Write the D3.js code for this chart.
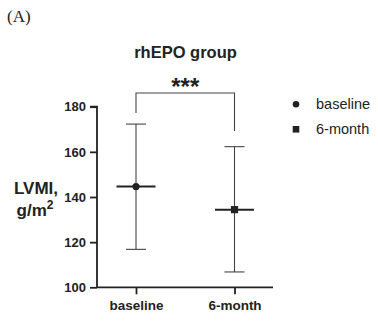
<!DOCTYPE html>
<html><head><meta charset="utf-8">
<script src="https://cdn.jsdelivr.net/npm/d3@7"></script>
<style>body{margin:0;background:#fff}svg{display:block}</style>
</head><body>
<svg id="c" width="378" height="326"></svg>
<script>
const categories = ["baseline", "6-month"];
const means = [144.6, 134.4];
const upper = [172.3, 162.3];
const lower = [116.8, 106.8];
const yTicks = [100, 120, 140, 160, 180];
const legendLabels = ["baseline", "6-month"];
const sigLabel = "***";

const svg = d3.select("#c");
const ink = "#222";
const font = "Liberation Sans, Arial, Helvetica, sans-serif";

const x = d3.scalePoint().domain(categories).range([136, 234.5]);
const y = d3.scaleLinear().domain([100, 180]).range([287.3, 106.7]);

svg.append("text").attr("x", 7).attr("y", 22).attr("font-family", "Liberation Serif, Times New Roman, serif")
  .attr("font-size", 17).attr("fill", ink).text("(A)");

svg.append("text").attr("x", 185.5).attr("y", 58).attr("text-anchor", "middle").attr("font-family", font)
  .attr("font-weight", "bold").attr("font-size", 16.5).attr("fill", ink).text("rhEPO group");

// y axis
const yAxis = svg.append("g").attr("transform", "translate(97,0)")
  .call(d3.axisLeft(y).tickValues(yTicks).tickSize(7).tickPadding(4));
yAxis.select(".domain").attr("stroke", ink).attr("stroke-width", 1.8).attr("d", `M-7,${y(180)}H0V${y(100)}`);
yAxis.selectAll(".tick line").attr("stroke", ink).attr("stroke-width", 1.8);
yAxis.selectAll(".tick text").attr("font-family", font).attr("font-weight", "bold").attr("font-size", 13).attr("fill", ink);

// x axis
const xAxis = svg.append("g").attr("transform", `translate(0,${y(100)})`)
  .call(d3.axisBottom(x).tickSize(7).tickPadding(6));
xAxis.select(".domain").attr("stroke", ink).attr("stroke-width", 1.8).attr("d", `M97,0H273`);
xAxis.selectAll(".tick line").attr("stroke", ink).attr("stroke-width", 1.8);
xAxis.selectAll(".tick text").attr("font-family", font).attr("font-weight", "bold").attr("font-size", 13.5).attr("fill", ink);

// y label
const yl = svg.append("text").attr("font-family", font).attr("font-weight", "bold").attr("font-size", 17)
  .attr("fill", ink).attr("text-anchor", "middle");
yl.append("tspan").attr("x", 36).attr("y", 194).text("LVMI,");
yl.append("tspan").attr("x", 35).attr("y", 216).text("g/m");
yl.append("tspan").attr("dy", -7).attr("font-size", 12).text("2");

// error bars
const g = svg.append("g");
categories.forEach((c, i) => {
  const cx = x(c);
  g.append("line").attr("x1", cx).attr("x2", cx).attr("y1", y(upper[i])).attr("y2", y(lower[i]))
    .attr("stroke", "#444").attr("stroke-width", 1.1);
  [upper[i], lower[i]].forEach(v => g.append("line").attr("x1", cx - 10).attr("x2", cx + 10)
    .attr("y1", y(v)).attr("y2", y(v)).attr("stroke", "#444").attr("stroke-width", 1.1));
  g.append("line").attr("x1", cx - 19.5).attr("x2", cx + 19.5).attr("y1", y(means[i])).attr("y2", y(means[i]))
    .attr("stroke", ink).attr("stroke-width", 2);
  if (i === 0) g.append("circle").attr("cx", cx).attr("cy", y(means[i])).attr("r", 3.6).attr("fill", ink);
  else g.append("rect").attr("x", cx - 3.6).attr("y", y(means[i]) - 3.6).attr("width", 7.2).attr("height", 7.2).attr("fill", ink);
});

// significance bracket
const bTop = 93;
svg.append("path").attr("fill", "none").attr("stroke", "#444").attr("stroke-width", 1.1)
  .attr("d", `M${x(categories[0])},113V${bTop}H${x(categories[1])}V131`);
svg.append("text").attr("x", (x(categories[0]) + x(categories[1])) / 2).attr("y", 95).attr("text-anchor", "middle")
  .attr("font-family", font).attr("font-weight", "bold").attr("font-size", 24).attr("fill", ink).text(sigLabel);

// legend
legendLabels.forEach((l, i) => {
  const ly = 104.3 + i * 25;
  if (i === 0) svg.append("circle").attr("cx", 296).attr("cy", ly).attr("r", 3.3).attr("fill", ink);
  else svg.append("rect").attr("x", 292.7).attr("y", ly - 3.3).attr("width", 6.6).attr("height", 6.6).attr("fill", ink);
  svg.append("text").attr("x", 316).attr("y", ly + 5).attr("font-family", font).attr("font-size", 14.5)
    .attr("fill", ink).text(l);
});
</script>
</body></html>
